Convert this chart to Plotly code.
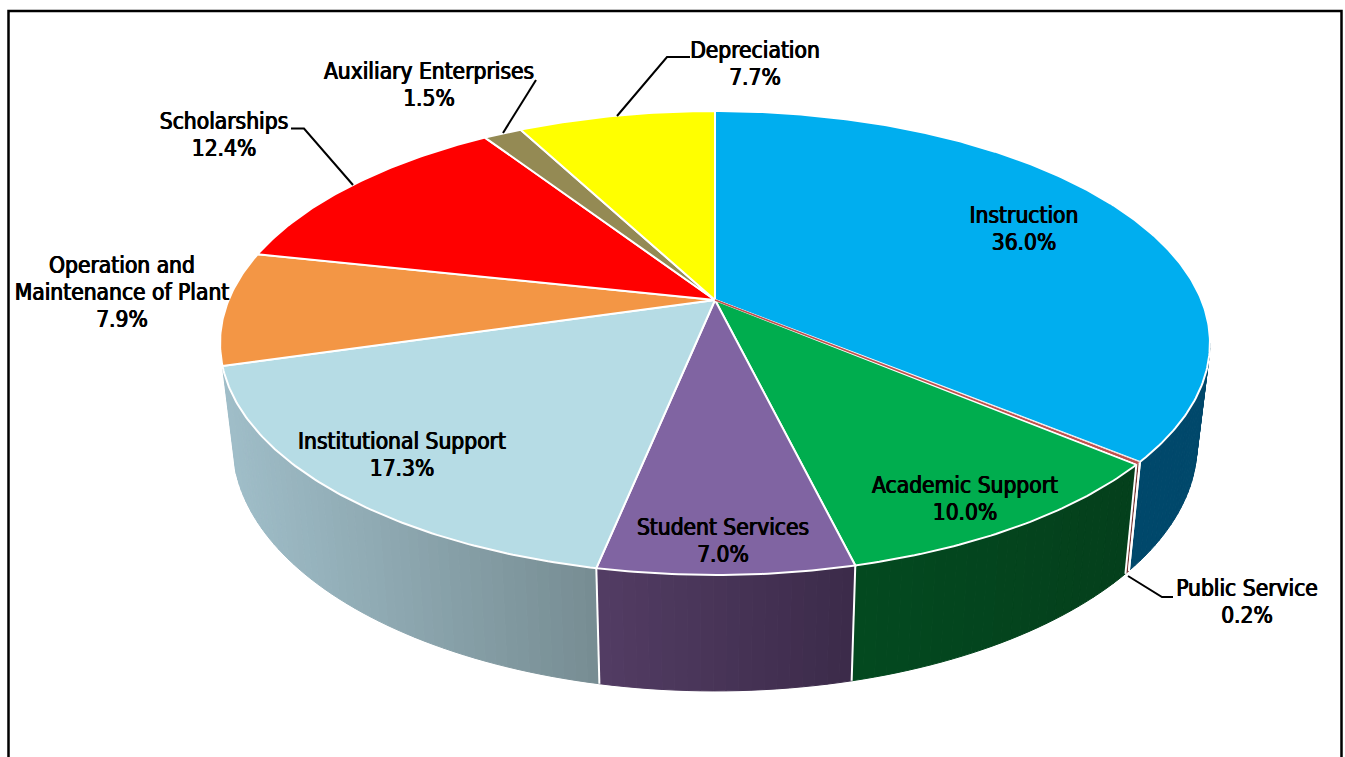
import numpy as np
import plotly.graph_objects as go

categories = ["Instruction", "Public Service", "Academic Support", "Student Services",
              "Institutional Support", "Operation and Maintenance of Plant",
              "Scholarships", "Auxiliary Enterprises", "Depreciation"]
values = [36.0, 0.2, 10.0, 7.0, 17.3, 7.9, 12.4, 1.5, 7.7]
top_colors = ["#00aeef", "#c0504d", "#00ad4e", "#8064a2", "#b6dce5",
              "#f39645", "#ff0000", "#948a54", "#ffff00"]
# side gradient (left colour, right colour); None = no visible side
side_colors = [("#00486b", "#00486b"), ("#7a3331", "#7a3331"), ("#034a20", "#05401c"),
               ("#533d64", "#3c2b4a"), ("#a0bec9", "#778d93"), None, None, None, None]

label_lines = [["Instruction"], ["Public Service"], ["Academic Support"], ["Student Services"],
               ["Institutional Support"], ["Operation and", "Maintenance of Plant"],
               ["Scholarships"], ["Auxiliary Enterprises"], ["Depreciation"]]
label_x = [1024, 1247, 965, 723, 402, 122, 224, 429, 755]
label_y = [217, 590, 487, 529, 443, 267, 123, 73, 52]
leaders = {1: ([1128, 1162, 1173], [576, 597, 597]),
           6: ([291, 304, 353], [128.5, 128.5, 185]),
           7: ([503, 536], [133, 80]),
           8: ([617, 667, 690], [116, 57, 57])}

FONT = "DejaVu Sans Condensed"
FONT_SIZE = 22.6
LINE_GAP = 27

# Perspective disc projection
CX, CY, A, B, K = 715.0, 300.0, 486.4, 224.0, 0.1853
SX, BA, BB = 0.974, 398.8, 1.0625


def top(theta):
    t = np.radians(theta)
    u, v = np.sin(t), np.cos(t)
    w = 1 + K * v
    return CX + A * u / w, CY - B * v / w


def bottom(theta):
    x, y = top(theta)
    return CX + SX * (x - CX), BA + BB * (y - CY)


def hex2rgb(h):
    return np.array([int(h[i:i + 2], 16) for i in (1, 3, 5)], float)


fig = go.Figure()

edges = np.concatenate([[0], np.cumsum(values)]) * 3.6
SIDE_START = np.degrees(np.arccos(-K))
SIDE_END = 360 - SIDE_START

# Sides
dividers = []
for i, sc in enumerate(side_colors):
    if sc is None:
        continue
    a0, a1 = max(edges[i], SIDE_START), min(edges[i + 1], SIDE_END)
    if i == 4:
        a1 = edges[i + 1]
    n = max(1, int((a1 - a0) / 1.2))
    grid = np.linspace(a0, a1, n + 1)
    c0, c1 = hex2rgb(sc[0]), hex2rgb(sc[1])
    xs_all = [top(g)[0] for g in grid]
    xmin, xmax = min(xs_all), max(xs_all)
    for g0, g1 in zip(grid[:-1], grid[1:]):
        seg = np.linspace(g0, g1, 4)
        xt, yt = top(seg)
        xb, yb = bottom(seg)
        f = (top((g0 + g1) / 2)[0] - xmin) / max(xmax - xmin, 1)
        col = "rgb(%d,%d,%d)" % tuple(c0 + (c1 - c0) * f)
        fig.add_trace(go.Scatter(
            x=np.concatenate([xt, xb[::-1], xt[:1]]),
            y=np.concatenate([yt, yb[::-1], yt[:1]]),
            mode="lines", fill="toself", fillcolor=col,
            line=dict(color=col, width=1), hoverinfo="skip", showlegend=False))
    dividers.append(edges[i + 1])

# Side dividers
for e in dividers[:-1] + [edges[1]]:
    xt, yt = top(e)
    xb, yb = bottom(e)
    fig.add_trace(go.Scatter(x=[xt, xb], y=[yt, yb], mode="lines",
                             line=dict(color="white", width=2),
                             hoverinfo="skip", showlegend=False))

# Top slices
for i, col in enumerate(top_colors):
    arc = np.linspace(edges[i], edges[i + 1], max(3, int(values[i] * 6)))
    xa, ya = top(arc)
    fig.add_trace(go.Scatter(
        x=np.concatenate([[CX], xa, [CX]]), y=np.concatenate([[CY], ya, [CY]]),
        mode="lines", fill="toself", fillcolor=col,
        line=dict(color="white" if i != 1 else "#f0e0e0", width=2 if i != 1 else 1),
        name=categories[i], hoverinfo="skip", showlegend=False))
# Public Service sliver on top of its white outline
arc_mid = edges[1] + (edges[2] - edges[1]) / 2
xm, ym = top(arc_mid)
fig.add_trace(go.Scatter(x=[CX, xm], y=[CY, ym], mode="lines",
                         line=dict(color=top_colors[1], width=1.5),
                         hoverinfo="skip", showlegend=False))

# Leader lines
for lx, ly in leaders.values():
    fig.add_trace(go.Scatter(x=lx, y=ly, mode="lines",
                             line=dict(color="black", width=2),
                             hoverinfo="skip", showlegend=False))

# Labels
tx, ty, tt = [], [], []
for i, lines in enumerate(label_lines):
    y = label_y[i]
    for ln in lines:
        tx.append(label_x[i])
        ty.append(y)
        tt.append(ln)
        y += LINE_GAP
    tx.append(label_x[i])
    ty.append(y)
    tt.append("%.1f%%" % values[i])
fig.add_trace(go.Scatter(x=tx, y=ty, text=tt, mode="text", textposition="middle center",
                         textfont=dict(family=FONT, size=FONT_SIZE, color="black",
                                       shadow="0.5px 0 0.6px #000, -0.5px 0 0.6px #000"),
                         hoverinfo="skip", showlegend=False))

# Frame (open at the bottom)
fig.add_trace(go.Scatter(x=[8.5, 8.5, 1341.5, 1341.5], y=[757, 11, 11, 757], mode="lines",
                         line=dict(color="black", width=2.5),
                         hoverinfo="skip", showlegend=False))

fig.update_layout(
    width=1345, height=757, margin=dict(l=0, r=0, t=0, b=0),
    paper_bgcolor="white", plot_bgcolor="white", showlegend=False,
    xaxis=dict(range=[0, 1345], visible=False, fixedrange=True),
    yaxis=dict(range=[757, 0], visible=False, fixedrange=True),
)
fig.write_html("out.html", config={"displayModeBar": False},
               post_script="document.body.style.margin='0';document.body.style.overflow='hidden';")
